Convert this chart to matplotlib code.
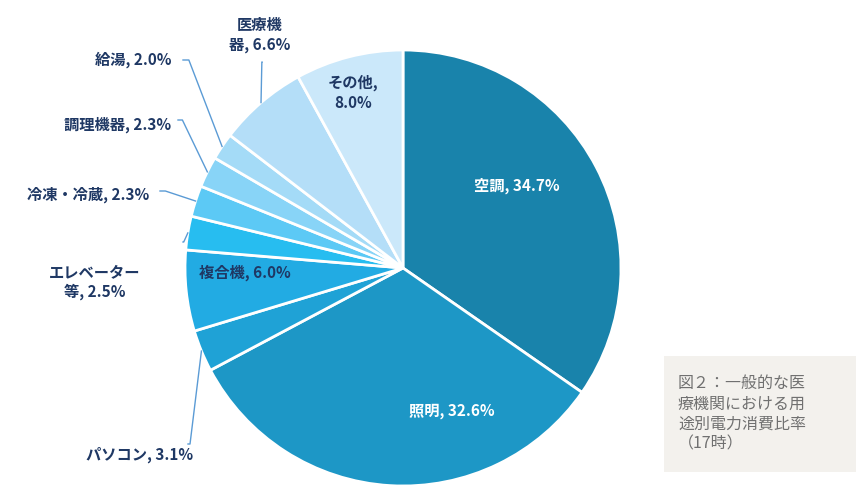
import matplotlib
matplotlib.use("Agg")
import matplotlib.pyplot as plt
import numpy as np

plt.rcParams['font.family'] = ['Noto Sans CJK JP', 'DejaVu Sans']

labels = ["空調", "照明", "パソコン", "複合機", "エレベーター\n等", "冷凍・冷蔵", "調理機器", "給湯", "医療機\n器", "その他"]
values = [34.7, 32.6, 3.1, 6.0, 2.5, 2.3, 2.3, 2.0, 6.6, 8.0]
colors = ["#1983ab", "#1d97c6", "#1fa2d6", "#22abe3", "#27bdf0", "#5cc9f5",
          "#88d4f7", "#a4dbf7", "#b4def8", "#cbe8fa"]

fig = plt.figure(figsize=(8.65, 5.04), dpi=100)
ax = fig.add_axes([0, 0, 1, 1])
ax.set_xlim(0, 865); ax.set_ylim(0, 504); ax.axis('off')
cx, cy, R = 403, 236, 218
wedges, _ = ax.pie(values, colors=colors, startangle=90, counterclock=False,
                   center=(cx, cy), radius=R, frame=True,
                   wedgeprops=dict(edgecolor='white', linewidth=2))
ax.set_xlim(0, 865); ax.set_ylim(0, 504); ax.axis('off'); ax.set_aspect('auto')

navy = "#1f3864"
fs = 11
def txt(i):
    lab = labels[i]
    if "\n" in lab:
        a, b = lab.split("\n")
        return f"{a}\n{b}, {values[i]:.1f}%"
    return f"{lab}, {values[i]:.1f}%"

# inside labels
inside = {0: (517, 318, 'white'), 1: (452, 93, 'white'), 3: (245, 231, navy)}
for i, (x, y, c) in inside.items():
    ax.text(x, y, txt(i), ha='center', va='center', color=c, fontsize=fs, fontweight='bold')
ax.text(353, 411, "その他,\n8.0%", ha='center', va='center', color=navy, fontsize=fs,
        fontweight='bold', linespacing=1.3)

# outside labels with leader lines
outside = {8: (260, 469, (262, 442)), 7: (133, 444, (183, 444)),
           6: (118, 379, (178, 384)), 5: (88, 309, (160, 313)),
           4: (95, 222, (183, 262)), 2: (140, 49, (188, 60))}
for i, (x, y, end) in outside.items():
    ax.text(x, y, txt(i), ha='center', va='center', color=navy, fontsize=fs,
            fontweight='bold', linespacing=1.3)
    w = wedges[i]
    ang = np.deg2rad((w.theta1 + w.theta2) / 2)
    px, py = cx + R * np.cos(ang), cy + R * np.sin(ang)
    ax.plot([end[0], end[0] + (px - end[0]) * 0.15, px], [end[1], end[1], py],
            color="#5b9bd5", lw=1)

# caption box
ax.add_patch(plt.Rectangle((664, 32), 192, 116, facecolor="#f3f1ed", edgecolor='none'))
ax.text(678, 90, "図２：一般的な医\n療機関における用\n途別電力消費比率\n（17時）", ha='left', va='center',
        color="#707070", fontsize=11.5, linespacing=1.25)

fig.savefig("out.png", dpi=100)
